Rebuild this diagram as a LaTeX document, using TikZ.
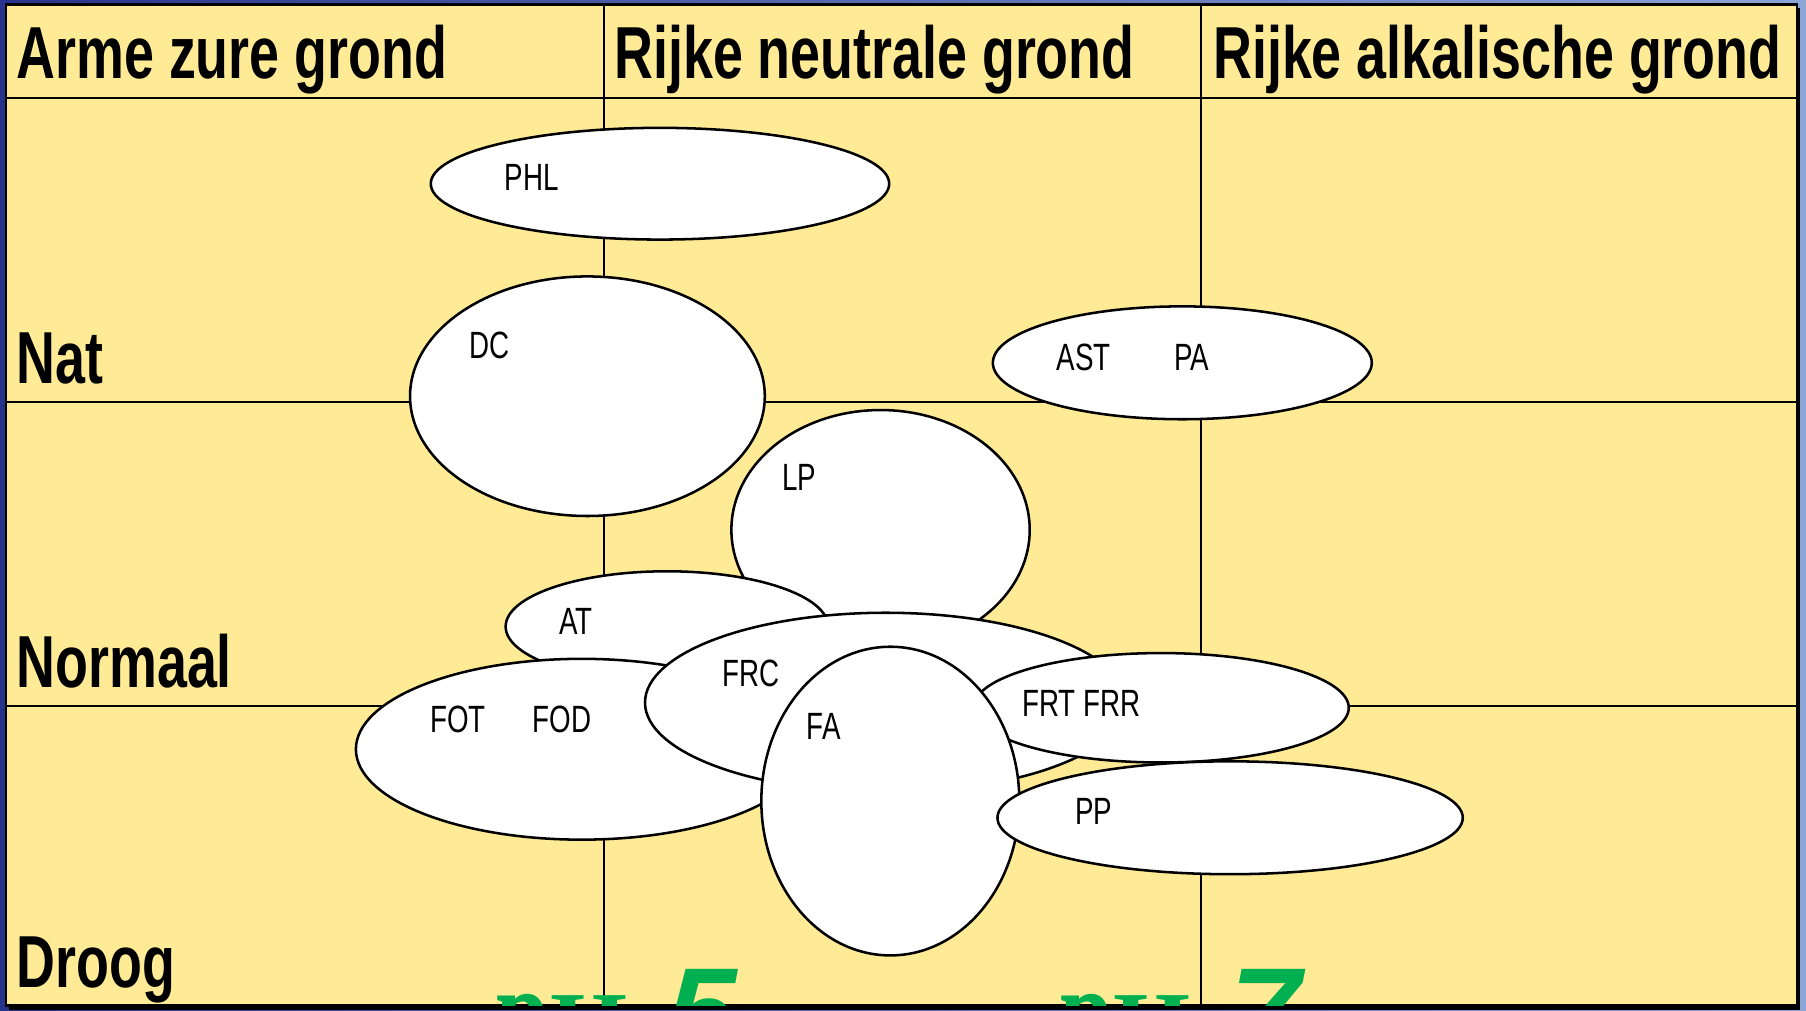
\documentclass[tikz,border=0pt]{standalone}
\usepackage{fontspec}
\setmainfont{Liberation Sans}
\newfontfamily\narrowfont{Liberation Sans}[FakeStretch=0.73]
\newfontfamily\phfont{Liberation Serif}
\newfontfamily\phnarrow{Liberation Serif}[FakeStretch=0.68]
\usetikzlibrary{shapes.geometric}
\definecolor{soil}{RGB}{255,235,150}
\definecolor{slidedark}{RGB}{40,52,140}
\definecolor{slidelight}{RGB}{140,165,215}
\definecolor{phgreen}{RGB}{0,176,80}
\begin{document}
\begin{tikzpicture}[x=0.5pt, y=-0.5pt,
	blob/.style={ellipse, draw, fill=white, line width=1.1pt, inner sep=0pt},
	lbl/.style={anchor=base west, inner sep=0pt, font=\narrowfont\fontsize{16.5}{16.5}\selectfont},
	head/.style={anchor=base west, inner sep=0pt, font=\narrowfont\bfseries\fontsize{32}{32}\selectfont},
	ph/.style={anchor=base west, inner sep=0pt, text=phgreen, font=\phfont\bfseries\fontsize{43}{43}\selectfont},
	num/.style={anchor=base west, inner sep=0pt, text=phgreen, font=\bfseries\itshape\fontsize{55}{55}\selectfont}]
		\useasboundingbox (0,0) rectangle (1568,877);
		\shade[left color=slidedark, right color=slidelight] (0,0) rectangle (1568,877);
		\fill[black] (8,7) rectangle (1563,877);
		\draw[fill=soil, line width=1pt] (5,4) rectangle (1560,873);
		\draw[line width=0.9pt] (5,85) -- (1560,85);
		\foreach \y in {349,613} \draw[line width=0.9pt] (5,\y) -- (1560,\y);
		\foreach \x in {524,1043} \draw[line width=0.9pt] (\x,4) -- (\x,873);
		\node[head] (hpoor) at (14,68) {Arme zure grond};
		\node[head] (hneutral) at (533,68) {Rijke neutrale grond};
		\node[head] (halkaline) at (1053,68) {Rijke alkalische grond};
		\node[head] (rwet) at (14,333) {Nat};
		\node[head] (rnormal) at (14,597) {Normaal};
		\node[head] (rdry) at (14,857) {Droog};
		\foreach \n/\x/\y/\rx/\ry in {phl/573/159.5/199/48.5, dc/510/344/154/104, ast/1026.5/315/164.5/49,
			lp/764.5/460/129.5/104, at/579/544/140/48, fot/505/650.5/196/78.5, frc/769/610/209/78,
			frt/1008/614.5/163/47.5, fa/773/695.5/112/134, pp/1068/710/202/49}
			\node[blob, minimum width=\rx pt, minimum height=\ry pt] (\n) at (\x,\y) {};
		\foreach \n/\t/\x/\y in {lphl/PHL/438/165, ldc/DC/407/311, last/AST/917/322, lpa/PA/1019/322,
			llp/LP/679/426, lat/AT/485/551, lfot/FOT/373/636, lfod/FOD/462/636, lfrc/FRC/627/596,
			lfa/FA/700/642, lfrt/FRT FRR/887/622, lpp/PP/933/716}
			\node[lbl] (\n) at (\x,\y) {\t};
		\begin{scope}
			\clip (0,0) rectangle (1568,873);
			\node[ph] (ph5) at (431,921) {{\phnarrow\fontsize{61}{61}\selectfont p}H};
			\node[num] (five) at (578,917) {5};
			\node[ph] (ph7) at (920,921) {{\phnarrow\fontsize{61}{61}\selectfont p}H};
			\node[num] (seven) at (1068,917) {7};
		\end{scope}
	\end{tikzpicture}
\end{document}
